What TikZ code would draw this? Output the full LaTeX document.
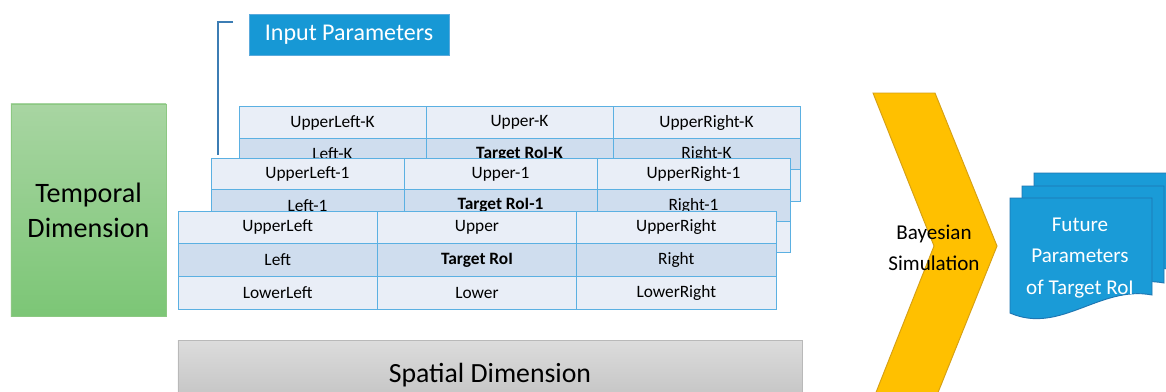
\documentclass[tikz,border=0pt]{standalone}
\usepackage{fontspec}
\setmainfont{Carlito}

\definecolor{cellline}{RGB}{91,176,226}
\definecolor{celllite}{RGB}{233,238,247}
\definecolor{celldark}{RGB}{207,221,238}
\definecolor{inblue}{RGB}{23,152,213}
\definecolor{docblue}{RGB}{26,155,215}
\definecolor{docedge}{RGB}{30,118,178}
\definecolor{brace}{RGB}{60,125,180}
\definecolor{chevfill}{RGB}{255,192,0}
\definecolor{chevedge}{RGB}{214,160,20}

\tikzset{
	cell/.style={draw=cellline, line width=0.7pt, inner sep=0pt, text=black, font=\fontsize{14.8}{17}\selectfont},
	lite/.style={cell, fill=celllite},
	dark/.style={cell, fill=celldark},
	tabK/.style={minimum width=5.61cm, minimum height=0.94cm},
	tabA/.style={minimum width=5.79cm, minimum height=0.95cm},
	tabB/.style={minimum width=5.98cm, minimum height=0.98cm},
	doc/.style={fill=docblue, draw=docedge, line width=0.8pt},
}

\begin{document}
\begin{tikzpicture}[x=0.03cm, y=-0.03cm]
	\useasboundingbox (0, 0) rectangle (1166, 392);
	\clip (0, 0) rectangle (1166, 392);
	\fill[white] (0, 0) rectangle (1166, 392);

	% dimensions
	\node[shade, top color={rgb,255:red,168;green,213;blue,162}, bottom color={rgb,255:red,124;green,198;blue,118}, draw={rgb,255:red,140;green,200;blue,130}, minimum width=4.65cm, minimum height=6.36cm, align=center, font=\fontsize{24}{30}\selectfont] (temp) at (88.5, 210) {Temporal\\Dimension};
	\node[shade, top color={rgb,255:red,220;green,220;blue,220}, bottom color={rgb,255:red,192;green,192;blue,192}, draw={rgb,255:red,185;green,185;blue,185}, minimum width=18.72cm, minimum height=2.1cm, font=\fontsize{23.7}{28}\selectfont] (spat) at (490, 375) {Spatial Dimension};

	% input parameters
	\node[fill=inblue, draw={rgb,255:red,90;green,170;blue,220}, text=white, minimum width=6cm, minimum height=1.23cm, font=\fontsize{20.5}{24}\selectfont] (inp) at (349, 34.5) {Input Parameters};
	\coordinate (brA) at (233, 22);
	\coordinate (brB) at (218, 155);
	\draw[brace, line width=1pt] (brA) -| (brB);

	% time step K
	\node[lite, tabK] (ulK) at (332.5, 122.5) {UpperLeft-K};
	\node[lite, tabK] (uK)  at (519.5, 122.5) {Upper-K};
	\node[lite, tabK] (urK) at (706.5, 122.5) {UpperRight-K};
	\node[dark, tabK] (lK)  at (332.5, 154)   {Left-K};
	\node[dark, tabK] (tK)  at (519.5, 154)   {\textbf{Target RoI-K}};
	\node[dark, tabK] (rK)  at (706.5, 154)   {Right-K};
	\node[lite, tabK] (llK) at (332.5, 185.5) {};
	\node[lite, tabK] (loK) at (519.5, 185.5) {};
	\node[lite, tabK] (lrK) at (706.5, 185.5) {};

	% time step 1
	\node[lite, tabA] (ul1) at (307.5, 174)   {UpperLeft-1};
	\node[lite, tabA] (u1)  at (500.5, 174)   {Upper-1};
	\node[lite, tabA] (ur1) at (693.5, 174)   {UpperRight-1};
	\node[dark, tabA] (l1)  at (307.5, 205.5) {Left-1};
	\node[dark, tabA] (t1)  at (500.5, 205.5) {\textbf{Target RoI-1}};
	\node[dark, tabA] (r1)  at (693.5, 205.5) {Right-1};
	\node[lite, tabA] (ll1) at (307.5, 237)   {};
	\node[lite, tabA] (lo1) at (500.5, 237)   {};
	\node[lite, tabA] (lr1) at (693.5, 237)   {};

	% current time step
	\node[lite, tabB] (ul) at (277.7, 227.3) {UpperLeft};
	\node[lite, tabB] (up) at (477, 227.3)   {Upper};
	\node[lite, tabB] (ur) at (676.3, 227.3) {UpperRight};
	\node[dark, tabB] (le) at (277.7, 260)   {Left};
	\node[dark, tabB] (tr) at (477, 260)     {\textbf{Target RoI}};
	\node[dark, tabB] (ri) at (676.3, 260)   {Right};
	\node[lite, tabB] (ll) at (277.7, 292.7) {LowerLeft};
	\node[lite, tabB] (lo) at (477, 292.7)   {Lower};
	\node[lite, tabB] (lr) at (676.3, 292.7) {LowerRight};

	% simulation
	\filldraw[fill=chevfill, draw=chevedge, line width=0.8pt] (873, 93) -- (935, 93) -- (997, 246) -- (935, 400) -- (873, 400) -- (934, 246) -- cycle;
	\node[align=center, font=\fontsize{18}{26}\selectfont] (bay) at (934, 248) {Bayesian\\Simulation};

	% future parameters
	\filldraw[doc, shift={(24, -25)}] (1010, 198) -- (1152, 198) -- (1152, 295) .. controls (1100, 285) and (1060, 335) .. (1010, 313) -- cycle;
	\filldraw[doc, shift={(12, -12)}] (1010, 198) -- (1152, 198) -- (1152, 295) .. controls (1100, 285) and (1060, 335) .. (1010, 313) -- cycle;
	\filldraw[doc] (1010, 198) -- (1152, 198) -- (1152, 295) .. controls (1100, 285) and (1060, 335) .. (1010, 313) -- cycle;
	\node[align=center, text=white, font=\fontsize{18}{27}\selectfont] (fut) at (1080, 258) {Future\\Parameters\\of Target RoI};
\end{tikzpicture}
\end{document}
